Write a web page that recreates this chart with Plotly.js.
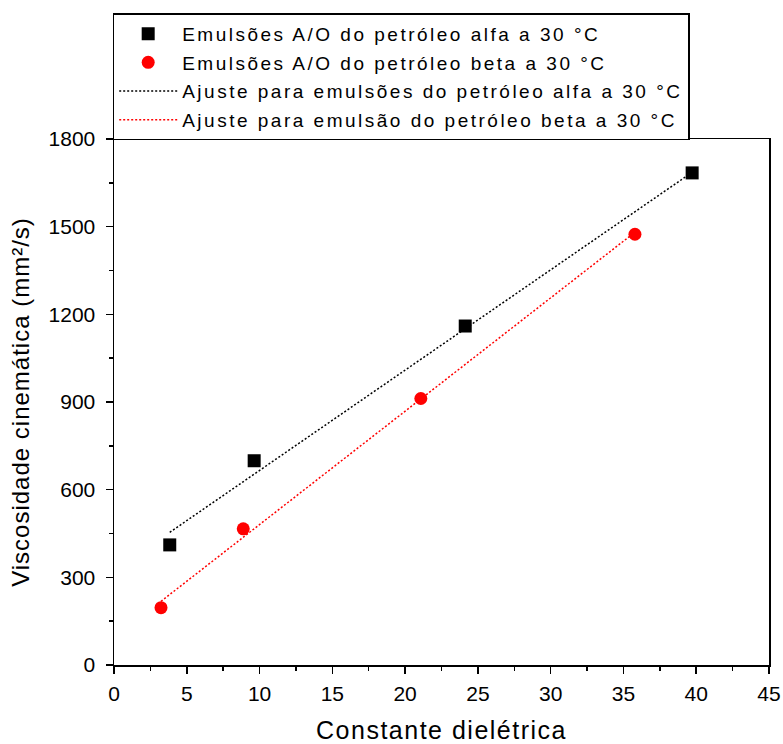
<!DOCTYPE html>
<html>
<head>
<meta charset="utf-8">
<script src="https://cdn.plot.ly/plotly-3.0.1.min.js"></script>
<style>
  html, body { margin: 0; padding: 0; background: #fff; }
  #chart { width: 783px; height: 744px; }
  .legendtext { letter-spacing: 2.5px; }
  .ytitle { letter-spacing: 1px; }
  .xtitle { letter-spacing: 1.5px; }
</style>
</head>
<body>
<div id="chart"></div>
<script>
// Dielectric constant vs. kinematic viscosity of W/O emulsions at 30 °C
const alfaX = [3.83, 9.63, 24.13, 39.72];
const alfaY = [411, 699, 1160, 1684];
const betaX = [3.23, 8.88, 21.08, 35.79];
const betaY = [196, 466, 912, 1474];

// Fitted lines (end points)
const alfaFitX = [3.83, 39.72];
const alfaFitY = [454, 1686];
const betaFitX = [3.23, 35.79];
const betaFitY = [218, 1481];

const xTicks = [0, 5, 10, 15, 20, 25, 30, 35, 40, 45];
const xTickText = ['0', '5', '10', '15', '20', '25', '30', '35', '40', '45'];
const yTicks = [0, 300, 600, 900, 1200, 1500, 1800];
const yTickText = ['0', '300', '600', '900', '1200', '1500', '1800'];

const seriesNames = [
  'Emulsões A/O do petróleo alfa a 30 °C',
  'Emulsões A/O do petróleo beta a 30 °C',
  'Ajuste para emulsões do petróleo alfa a 30 °C',
  'Ajuste para emulsão do petróleo beta a 30 °C'
];

const FONT = '"Liberation Sans", Arial, Helvetica, sans-serif';

const traces = [
  {
    x: alfaX, y: alfaY, name: seriesNames[0], legendgroup: 'g1',
    type: 'scatter', mode: 'markers',
    marker: { symbol: 'square', size: 13, color: '#000' }
  },
  {
    x: betaX, y: betaY, name: seriesNames[1], legendgroup: 'g2',
    type: 'scatter', mode: 'markers',
    marker: { symbol: 'circle', size: 13, color: '#ff0000' }
  },
  {
    x: alfaFitX, y: alfaFitY, name: seriesNames[2], legendgroup: 'g3',
    type: 'scatter', mode: 'lines',
    line: { color: '#000', width: 1.5, dash: '2px,2px' }
  },
  {
    x: betaFitX, y: betaFitY, name: seriesNames[3], legendgroup: 'g4',
    type: 'scatter', mode: 'lines',
    line: { color: '#ff0000', width: 1.5, dash: '2px,2px' }
  }
];

const axisCommon = {
  showline: true, linecolor: '#000', linewidth: 1.5, mirror: true,
  showgrid: false, zeroline: false,
  ticks: 'outside', ticklen: 7, tickwidth: 1.5, tickcolor: '#000',
  tickfont: { family: FONT, size: 21, color: '#000' }
};

const layout = {
  width: 783, height: 744,
  margin: { l: 114, r: 14, t: 139, b: 79 },
  paper_bgcolor: '#fff', plot_bgcolor: '#fff',
  font: { family: FONT, color: '#000' },
  showlegend: true,
  legend: {
    x: -0.002, y: 1.239, xanchor: 'left', yanchor: 'top',
    bgcolor: '#fff', bordercolor: '#000', borderwidth: 1.5,
    font: { family: FONT, size: 19, color: '#000' },
    itemwidth: 58, tracegroupgap: 1, traceorder: 'grouped'
  },
  xaxis: Object.assign({}, axisCommon, {
    range: [0, 45], tickmode: 'array', tickvals: xTicks, ticktext: xTickText,
    ticklabelstandoff: 2,
    minor: { dtick: 2.5, tick0: 0, ticks: 'outside', ticklen: 4, tickwidth: 1.5, tickcolor: '#000' },
    title: { text: 'Constante dielétrica', font: { family: FONT, size: 25, color: '#000' }, standoff: 22 }
  }),
  yaxis: Object.assign({}, axisCommon, {
    range: [0, 1800], tickmode: 'array', tickvals: yTicks, ticktext: yTickText,
    ticklabelstandoff: 6,
    minor: { dtick: 150, tick0: 0, ticks: 'outside', ticklen: 4, tickwidth: 1.5, tickcolor: '#000' },
    title: { text: 'Viscosidade cinemática (mm²/s)', font: { family: FONT, size: 24, color: '#000' }, standoff: 12 }
  })
};

Plotly.newPlot('chart', traces, layout, { displayModeBar: false, staticPlot: true });
</script>
</body>
</html>
